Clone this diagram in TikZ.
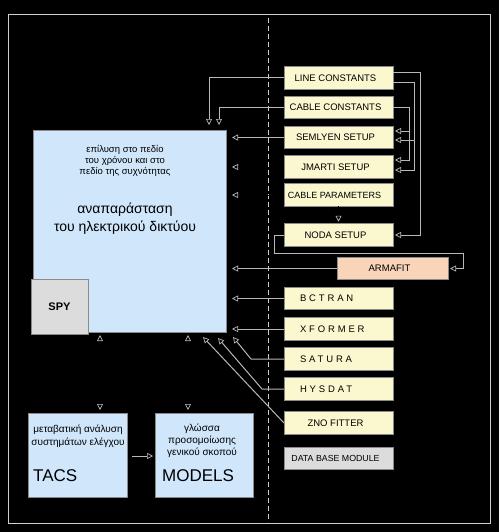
\documentclass[tikz,border=0pt]{standalone}
\usepackage{fontspec}
\setmainfont{Liberation Sans}
\newfontfamily\wide[LetterSpace=30]{Liberation Sans}
\usetikzlibrary{arrows.meta,calc}
\definecolor{cream}{HTML}{FBF8CF}
\definecolor{lblue}{HTML}{CFE6FB}
\definecolor{lgrey}{HTML}{DCDCDC}
\definecolor{peach}{HTML}{F9D4B8}
\definecolor{linegray}{HTML}{B8B8B8}
\definecolor{framegray}{HTML}{CFCFCF}
\definecolor{edgegray}{HTML}{8A8A8A}
\tikzset{
  box/.style={draw=edgegray, line width=0.8pt, inner sep=0pt, outer sep=0pt, text=black},
  rbox/.style={box, fill=cream, minimum width=109pt, minimum height=22.5pt, font=\fontsize{9.5}{10}\selectfont, execute at end node={\hspace{6pt}}},
  arr/.style={draw=linegray, line width=1pt, -{Triangle[open, length=6pt, width=6pt, line width=0.7pt]}},
  ghost/.style={draw=black, line width=1pt, -{Triangle[open, length=6pt, width=6pt, line width=0.7pt, color=linegray]}},
  ghostboth/.style={draw=black, line width=1pt, {Triangle[open, length=6pt, width=6pt, line width=0.7pt, color=linegray]}-{Triangle[open, length=6pt, width=6pt, line width=0.7pt, color=linegray]}},
}
\newcommand{\wlabel}[1]{\makebox[71pt][l]{\wide #1}}
\begin{document}
\begin{tikzpicture}[x=1pt,y=-1pt]
\fill[black] (0,0) rectangle (499,532);
\useasboundingbox (0,0) rectangle (499,532);
% frame
\draw[framegray, line width=1pt] (8,15) rectangle (490,523);
% dashed divider
\draw[white!80!black, line width=0.8pt, dash pattern=on 5pt off 3pt] (268,18) -- (268,522);

% main box
\node[box, fill=lblue, minimum width=193pt, minimum height=202pt] (main) at (129.5,231) {};
\node[align=center, font=\fontsize{9.5}{11}\selectfont, inner sep=0pt] (mtxt1) at (125,161)
  {επίλυση στο πεδίο\\του χρόνου και στο\\πεδίο της συχνότητας};
\node[align=center, font=\fontsize{14}{18}\selectfont, inner sep=0pt] (mtxt2) at (125,219)
  {αναπαράσταση\\του ηλεκτρικού δικτύου};
\node[box, fill=lgrey, minimum width=57pt, minimum height=55pt, font=\bfseries\fontsize{11}{12}\selectfont] (spy) at (59.5,306.5) {SPY};

% TACS and MODELS
\node[box, fill=lblue, minimum width=99pt, minimum height=84pt] (tacs) at (77.5,455) {};
\node[align=center, font=\fontsize{10}{13}\selectfont, inner sep=0pt] (ttxt) at (78,436.5)
  {μεταβατική ανάλυση\\συστημάτων ελέγχου};
\node[anchor=west, font=\fontsize{17}{18}\selectfont, inner sep=0pt] (tname) at (33,476) {TACS};
\node[box, fill=lblue, minimum width=98pt, minimum height=84pt] (models) at (204,455) {};
\node[align=center, font=\fontsize{10}{12}\selectfont, inner sep=0pt] (mdtxt) at (202,441)
  {γλώσσα\\προσομοίωσης\\γενικού σκοπού};
\node[anchor=west, font=\fontsize{17}{18}\selectfont, inner sep=0pt] (mname) at (162,476) {MODELS};

% right boxes
\node[rbox] (lc) at (338.5,78) {LINE CONSTANTS};
\node[rbox] (cc) at (338.5,107.5) {CABLE CONSTANTS\hspace{4pt}};
\node[rbox] (sem) at (338.5,137.5) {SEMLYEN SETUP};
\node[rbox] (jm) at (338.5,167) {JMARTI SETUP\hspace{5pt}};
\node[rbox, font=\fontsize{9}{10}\selectfont, execute at end node={\hspace{2pt}}] (cp) at (338.5,195) {CABLE PARAMETERS};
\node[rbox] (noda) at (338.5,235) {NODA SETUP\hspace{13pt}};
\node[rbox, fill=peach, minimum width=111pt] (arma) at (392.5,268.5) {ARMAFIT\hspace{13pt}};
\node[rbox, execute at end node={}] (bct) at (338.5,298.5) {\wlabel{BCTRAN}};
\node[rbox, execute at end node={}] (xf) at (338.5,329) {\wlabel{XFORMER}};
\node[rbox, execute at end node={}] (sat) at (338.5,359) {\wlabel{SATURA}};
\node[rbox, execute at end node={}] (hys) at (338.5,389) {\wlabel{HYSDAT}};
\node[rbox] (zno) at (338.5,423) {ZNO FITTER\hspace{14pt}};
\node[rbox, fill=lgrey, font=\fontsize{8.8}{10}\selectfont] (db) at (338.5,458.5) {DATA BASE MODULE};

% connectors to main box (top)
\draw[arr, shorten >=5pt] (lc.west) -| ($(main.north east)+(-17,0)$);
\draw[arr, shorten >=5pt] (cc.west) -| ($(main.north east)+(-7,0)$);
% connectors to main box (right)
\draw[arr, shorten >=6pt] (sem.west) -- (main.east |- sem.west);
\draw[ghost, shorten >=6pt] (jm.west) -- (main.east |- jm.west);
\draw[ghost, shorten >=6pt] (cp.west) -- (main.east |- cp.west);
\draw[arr, shorten >=6pt] (arma.west) -- (main.east |- arma.west);
\draw[arr, shorten >=6pt] (bct.west) -- (main.east |- bct.west);
\draw[arr, shorten >=6pt] (xf.west) -- (main.east |- xf.west);
% diagonal connectors
\draw[arr] (sat.west) -- ++(-33,0) -- ($(main.south east)+(7,5)$);
\draw[arr] (hys.west) -- ++(-22,0) -- ($(main.south east)+(-8,6)$);
\draw[arr] (zno.west) -- ($(main.south east)+(-23,5)$);

% cable parameters -> noda
\draw[ghost, shorten >=2pt] (cp.south) -- (noda.north);
% noda -> armafit loop
\draw[arr, shorten >=2pt] (noda.west) -- ++(-10,0) -- ++(0,18) -| ($(arma.east)+(15,0)$) -- (arma.east);

% right-side loops
\draw[arr, shorten >=2pt] ($(lc.east)+(0,-5)$) -- ++(27,0) |- (noda.east);
\draw[arr, shorten >=2pt] ($(lc.east)+(0,5)$) -- ++(21,0) |- ($(jm.east)+(0,3)$);
\coordinate (lcb) at ($(lc.east)+(21,0)$);
\draw[arr, shorten >=2pt] (lcb |- sem.east) ++(0,2.5) -- ($(sem.east)+(0,2.5)$);
\draw[arr, shorten >=2pt] (cc.east) -- ++(16,0) |- ($(jm.east)+(0,-7)$);
\coordinate (ccb) at ($(cc.east)+(16,0)$);
\draw[arr, shorten >=2pt] ($(ccb |- sem.east)+(0,-6.5)$) -- ($(sem.east)+(0,-6.5)$);

% main <-> TACS, main <-> MODELS
\coordinate (t1) at ($(tacs.north)+(22.5,0)$);
\draw[ghostboth, shorten >=3pt, shorten <=3pt] (t1 |- main.south) -- (t1);
\coordinate (m1) at ($(models.north)+(-16,0)$);
\draw[ghostboth, shorten >=3pt, shorten <=3pt] (m1 |- main.south) -- (m1);
% TACS -> MODELS
\draw[arr, shorten <=5pt, shorten >=2pt] ($(tacs.east)+(0,1)$) -- ($(models.west)+(0,1)$);
\end{tikzpicture}
\end{document}
